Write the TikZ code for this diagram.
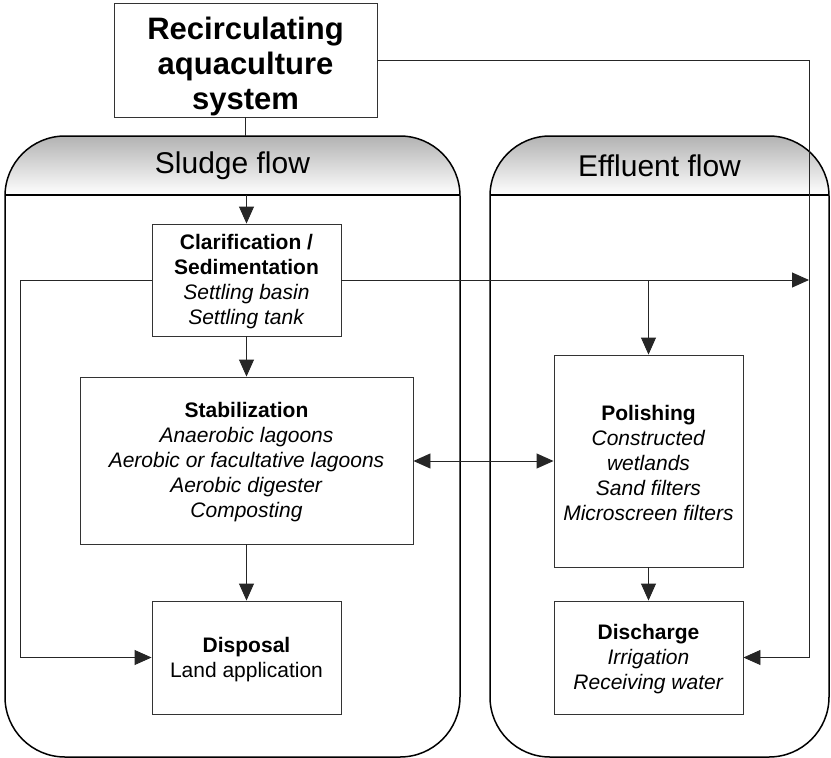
\documentclass[tikz,border=0pt]{standalone}
\usepackage{fontspec}
\setmainfont{Liberation Sans}
\usetikzlibrary{arrows.meta,calc}
\begin{document}
\begin{tikzpicture}[x=1pt,y=-1pt,
  box/.style={draw=black!80,line width=0.9pt,fill=white,inner sep=0pt,align=center,
     font=\fontsize{21}{25}\selectfont},
  btxt/.style={inner sep=0pt,align=center,font=\fontsize{21}{25}\selectfont},
  conn/.style={draw=black!85,line width=0.9pt},
  arr/.style={conn,-{Triangle[length=17pt,width=15pt]}},
  darr/.style={conn,{Triangle[length=17pt,width=15pt]}-{Triangle[length=17pt,width=15pt]}},
  cont/.style={draw=black,line width=1.5pt,rounded corners=60pt},
  hdr/.style={font=\fontsize{30}{34}\selectfont}
]
\useasboundingbox (0,0) rectangle (831,758);
% containers
\begin{scope}
  \clip[rounded corners=60pt] (5,136) rectangle (460,757);
  \shade[top color=black!30,bottom color=white] (5,136) rectangle (460,195);
\end{scope}
\begin{scope}
  \clip[rounded corners=60pt] (490,136) rectangle (829,757);
  \shade[top color=black!30,bottom color=white] (490,136) rectangle (829,195);
\end{scope}
\draw[cont] (5,136) rectangle (460,757);
\draw[cont] (490,136) rectangle (829,757);
\draw[line width=1.5pt] (5,195) -- (460,195);
\draw[line width=1.5pt] (490,195) -- (829,195);
\node[hdr] (sh) at (232.5,166) {Sludge flow};
\node[hdr] (eh) at (659.5,166) {Effluent flow};
\coordinate (shtop) at (245.5,136);
\coordinate (shbot) at (246.5,195);

% nodes
\node[box,minimum width=263pt,minimum height=114pt] (top) at (245.5,60) {};
\node[btxt,font=\fontsize{31}{35}\selectfont\bfseries] (topt) at (245.5,66)
  {Recirculating\\aquaculture\\system};
\node[box,minimum width=189pt,minimum height=112pt] (clar) at (246.5,280) {};
\node[btxt] (clart) at (246.5,282)
  {\textbf{Clarification /}\\\textbf{Sedimentation}\\\textit{Settling basin}\\\textit{Settling tank}};
\node[box,minimum width=333pt,minimum height=167pt] (stab) at (246.5,460.5) {};
\node[btxt] (stabt) at (246.5,462.5)
  {\textbf{Stabilization}\\\textit{Anaerobic lagoons}\\\textit{Aerobic or facultative lagoons}\\\textit{Aerobic digester}\\\textit{Composting}};
\node[box,minimum width=189pt,minimum height=113pt] (disp) at (246.5,657.5) {};
\node[btxt] (dispt) at (246.5,659.5)
  {\textbf{Disposal}\\Land application};
\node[box,minimum width=189pt,minimum height=212pt] (pol) at (648.5,461) {};
\node[btxt] (polt) at (648.5,463)
  {\textbf{Polishing}\\\textit{Constructed}\\\textit{wetlands}\\\textit{Sand filters}\\\textit{Microscreen filters}};
\node[box,minimum width=189pt,minimum height=113pt] (dis) at (648.5,657.5) {};
\node[btxt] (dist) at (648.5,659.5)
  {\textbf{Discharge}\\\textit{Irrigation}\\\textit{Receiving water}};

% coordinates
\coordinate (rt) at (809,60);
\coordinate (rb) at (809,657.5);
\coordinate (rm) at (809,280);
\coordinate (lt) at (20,280);
\coordinate (lb) at (20,657.5);
\coordinate (br) at (648.5,280);

% connectors
\draw[conn] (top.south) -- (shtop);
\draw[arr] (shbot) -- (clar.north);
\draw[arr] (clar.south) -- (stab.north);
\draw[arr] (stab.south) -- (disp.north);
\draw[arr] (clar.west) -- (lt) -- (lb) -- (disp.west);
\draw[arr] (clar.east) -- (rm);
\draw[arr] (br) -- (pol.north);
\draw[darr] (stab.east |- pol.west) -- (pol.west);
\draw[arr] (pol.south) -- (dis.north);
\draw[arr] (top.east |- rt) -- (rt) -- (rb) -- (dis.east);
\end{tikzpicture}
\end{document}
